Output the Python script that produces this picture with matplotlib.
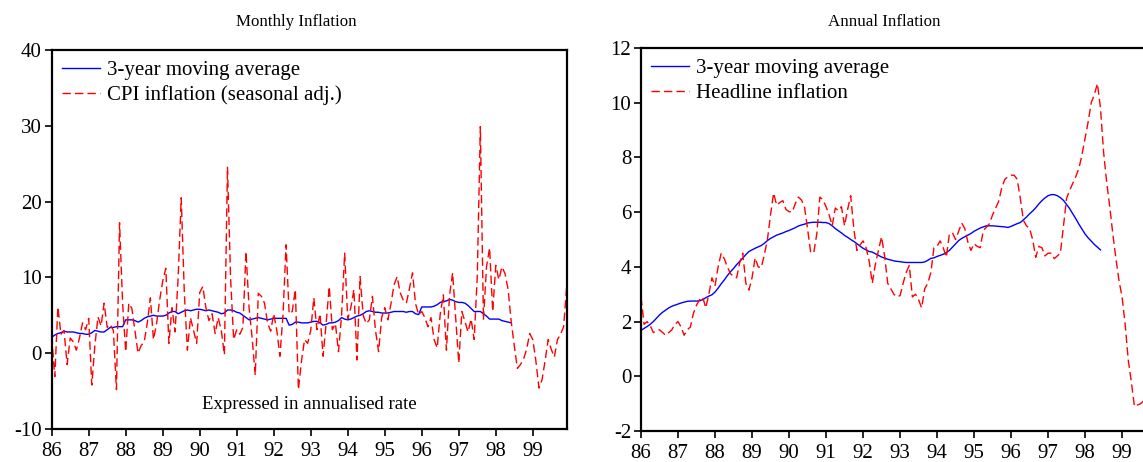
import numpy as np
import matplotlib
matplotlib.use("Agg")
import matplotlib.pyplot as plt

# monthly data, 1986M1 onwards
start_year = 86

# Monthly inflation, annualised (seasonally adjusted), 1986M1-1999M12
cpi_monthly = [
    2.2, -3.1, 6.1, 2.5, 3.0, -1.5, 2.0, 1.5, 0.4, 2.0, 4.0, 3.1,
    4.6, -4.2, 1.0, 4.8, 3.6, 6.6, 3.4, 3.8, 3.0, -4.8, 17.2, 6.5,
    0.2, 6.6, 5.9, 3.0, 0.0, 1.0, 1.5, 4.0, 7.3, 1.8, 3.9, 7.0,
    9.5, 11.2, 1.3, 6.0, 2.8, 10.0, 20.5, 8.0, 0.4, 4.7, 3.0, 1.3,
    8.0, 8.8, 6.0, 4.3, 5.2, 2.6, 4.7, 3.0, -0.2, 24.6, 10.0, 1.8,
    3.1, 2.5, 3.4, 13.4, 6.0, 2.0, -2.9, 7.9, 7.5, 6.6, 4.0, 2.9,
    5.2, 3.0, -0.4, 5.0, 14.3, 5.2, 5.5, 8.4, -4.8, -1.0, 1.8, 1.3,
    3.0, 7.3, 3.1, 5.2, -0.4, 4.0, 8.8, 3.1, 3.9, 0.2, 5.0, 13.2,
    4.5, 6.0, 8.4, -0.9, 10.1, 5.0, 3.9, 4.4, 7.5, 3.0, 0.2, 4.7,
    6.0, 4.4, 6.5, 9.0, 10.1, 8.0, 7.0, 6.6, 8.5, 10.6, 6.5, 5.1,
    5.5, 4.7, 3.5, 4.7, 1.8, 0.7, 5.2, 7.7, 0.4, 7.6, 10.6, 4.7,
    -1.3, 5.5, 4.2, 2.8, 4.5, 1.8, 10.1, 29.9, 4.4, 11.4, 13.9, 5.5,
    11.6, 9.7, 11.4, 10.5, 8.4, 4.2, 1.0, -2.0, -1.5, -0.8, 0.5, 2.6,
    1.8, -1.0, -4.6, -3.5, -1.0, 1.8, 0.5, -0.5, 1.8, 2.5, 3.5, 8.8,
]

# 3-year moving average of monthly inflation, 1986M1-1998M6
ma_monthly = [
    2.1, 2.4, 2.6, 2.7, 2.9, 2.8, 2.8, 2.8, 2.7, 2.6, 2.6, 2.5,
    2.5, 2.7, 3.0, 2.9, 2.8, 2.8, 3.1, 3.4, 3.4, 3.5, 3.5, 3.5,
    4.4, 4.4, 4.4, 4.3, 4.1, 4.3, 4.6, 4.8, 4.9, 5.0, 4.9, 4.9,
    4.9, 5.0, 5.3, 5.5, 5.5, 5.2, 5.4, 5.6, 5.7, 5.6, 5.7, 5.8,
    5.8, 5.7, 5.6, 5.7, 5.6, 5.5, 5.4, 5.2, 5.3, 5.7, 5.7, 5.6,
    5.4, 5.3, 5.0, 4.7, 4.4, 4.5, 4.6, 4.7, 4.6, 4.5, 4.4, 4.5,
    4.6, 4.6, 4.6, 4.6, 4.6, 3.7, 3.8, 4.1, 4.1, 4.0, 4.0, 4.0,
    4.1, 4.2, 4.2, 4.0, 3.7, 3.8, 4.0, 4.0, 4.1, 4.3, 4.7, 4.5,
    4.4, 4.5, 4.7, 4.9, 5.0, 5.2, 5.5, 5.6, 5.5, 5.4, 5.4, 5.3,
    5.3, 5.3, 5.4, 5.5, 5.5, 5.5, 5.5, 5.4, 5.5, 5.5, 5.2, 5.1,
    6.1, 6.1, 6.1, 6.1, 6.2, 6.4, 6.7, 6.8, 6.9, 7.1, 7.0, 6.8,
    6.7, 6.7, 6.6, 6.3, 5.9, 5.5, 5.5, 5.5, 5.2, 4.9, 4.5, 4.5,
    4.5, 4.5, 4.3, 4.2, 4.1, 4.0,
]

# Headline (year-on-year) inflation, 1986M1-1999M12
headline = [
    2.9, 1.9, 2.0, 1.85, 1.6, 1.65, 1.7, 1.6, 1.5, 1.6, 1.7, 1.9,
    2.0, 1.8, 1.5, 1.7, 1.8, 2.3, 2.6, 2.8, 2.9, 2.5, 3.0, 3.6,
    3.3, 4.0, 4.5, 4.3, 4.0, 3.75, 3.65, 3.6, 4.15, 4.5, 3.4, 3.15,
    3.6, 4.33, 4.0, 3.97, 4.45, 5.0, 5.9, 6.7, 6.25, 6.35, 6.42, 6.1,
    6.02, 6.0, 6.3, 6.55, 6.45, 6.2, 5.4, 4.55, 4.5, 5.2, 6.55, 6.45,
    6.2, 5.9, 5.5, 6.15, 6.05, 6.2, 5.5, 6.1, 6.6, 5.4, 4.6, 4.8,
    4.95, 4.7, 4.2, 3.4, 4.1, 4.6, 5.1, 4.4, 3.4, 3.2, 3.0, 2.9,
    2.95, 3.4, 3.8, 4.05, 2.9, 3.0, 2.8, 2.5, 3.2, 3.4, 3.8, 4.7,
    4.75, 4.95, 4.7, 4.35, 5.2, 5.25, 5.0, 5.3, 5.6, 5.4, 4.9, 4.6,
    4.85, 4.75, 4.7, 5.33, 5.45, 5.58, 5.9, 6.15, 6.4, 6.9, 7.2, 7.3,
    7.35, 7.35, 7.2, 6.5, 5.7, 5.5, 5.4, 5.0, 4.35, 4.75, 4.7, 4.4,
    4.5, 4.5, 4.3, 4.4, 4.5, 5.5, 6.5, 6.8, 7.05, 7.3, 7.6, 8.1,
    8.7, 9.3, 10.0, 10.3, 10.7, 9.8, 8.2, 7.1, 6.2, 5.2, 4.3, 3.5,
    2.9, 1.9, 0.6, -0.2, -1.1, -1.05, -1.0, -0.9, -0.8, -0.7, -0.6, -0.5,
]

# 3-year moving average of headline inflation, 1986M1-1998M6
headline_ma = [
    1.68, 1.75, 1.82, 1.9, 2.0, 2.12, 2.24, 2.34, 2.42, 2.5, 2.56, 2.6,
    2.64, 2.68, 2.71, 2.74, 2.75, 2.75, 2.75, 2.76, 2.8, 2.87, 2.93, 2.98,
    3.08, 3.22, 3.38, 3.52, 3.68, 3.82, 3.94, 4.08, 4.2, 4.32, 4.45, 4.56,
    4.62, 4.68, 4.73, 4.78, 4.86, 4.96, 5.04, 5.1, 5.16, 5.2, 5.24, 5.29,
    5.33, 5.38, 5.43, 5.49, 5.53, 5.56, 5.6, 5.62, 5.63, 5.63, 5.63, 5.62,
    5.62, 5.58, 5.5, 5.4, 5.32, 5.24, 5.15, 5.08, 5.0, 4.93, 4.85, 4.76,
    4.68, 4.62, 4.56, 4.54, 4.48, 4.42, 4.36, 4.32, 4.28, 4.25, 4.22, 4.2,
    4.19, 4.17, 4.16, 4.16, 4.16, 4.16, 4.16, 4.16, 4.18, 4.24, 4.31, 4.33,
    4.38, 4.42, 4.46, 4.52, 4.6, 4.72, 4.84, 4.96, 5.04, 5.1, 5.16, 5.22,
    5.3, 5.36, 5.42, 5.46, 5.5, 5.5, 5.5, 5.49, 5.48, 5.47, 5.46, 5.44,
    5.48, 5.53, 5.58, 5.62, 5.72, 5.82, 5.94, 6.04, 6.16, 6.3, 6.42, 6.52,
    6.6, 6.64, 6.64, 6.6, 6.53, 6.43, 6.28, 6.13, 5.94, 5.76, 5.56, 5.38,
    5.2, 5.06, 4.94, 4.82, 4.72, 4.62,
]

year_labels = [str(y) for y in range(86, 100)]


def months(n):
    return start_year + np.arange(n) / 12.0


plt.rcParams['font.family'] = ['Liberation Serif', 'DejaVu Serif']
plt.rcParams['axes.unicode_minus'] = False

fig = plt.figure(figsize=(11.43, 4.62), dpi=100)
ax1 = fig.add_axes([51.7 / 1143, 33 / 462, 515 / 1143, 379 / 462])
ax2 = fig.add_axes([641 / 1143, 31 / 462, 515 / 1143, 383 / 462])

red_dash = (0, (6, 3))


def style_axis(ax, yticks):
    ax.set_xlim(86, 86 + 167 / 12)
    ax.set_xticks(range(86, 100))
    ax.set_xticklabels(year_labels)
    ax.set_yticks(yticks)
    ax.set_ylim(yticks[0], yticks[-1])
    for s in ax.spines.values():
        s.set_linewidth(1.6)
    ax.tick_params(axis='both', direction='out', length=5, width=1.2,
                   labelsize=15, top=False, right=False)
    ax.tick_params(axis='x', pad=4)
    ax.tick_params(axis='y', pad=2)


leg_kw = dict(loc='upper left', frameon=False, fontsize=15, handlelength=1.8,
              handletextpad=0.35, labelspacing=0.25, borderaxespad=0.2,
              borderpad=0.3)

# monthly panel
ax1.plot(months(len(ma_monthly)), ma_monthly, color='#0000ff', lw=1.0,
         label='3-year moving average')
ax1.plot(months(len(cpi_monthly)), cpi_monthly, color='#ff0000', lw=1.0,
         linestyle=red_dash, label='CPI inflation (seasonal adj.)')
style_axis(ax1, [-10, 0, 10, 20, 30, 40])
ax1.legend(**leg_kw)
ax1.text(0.5, 0.042, 'Expressed in annualised rate', transform=ax1.transAxes,
         ha='center', va='bottom', fontsize=13.5)

# annual panel
ax2.plot(months(len(headline_ma)), headline_ma, color='#0000ff', lw=1.0,
         label='3-year moving average')
ax2.plot(months(len(headline)), headline, color='#ff0000', lw=1.0,
         linestyle=red_dash, label='Headline inflation')
style_axis(ax2, [-2, 0, 2, 4, 6, 8, 10, 12])
ax2.legend(**leg_kw)

fig.text(296 / 1143, 1 - 22 / 462, 'Monthly Inflation', ha='center',
         va='center', fontsize=12.2)
fig.text(884 / 1143, 1 - 22 / 462, 'Annual Inflation', ha='center',
         va='center', fontsize=12.2)

fig.savefig('out.png', dpi=100)
